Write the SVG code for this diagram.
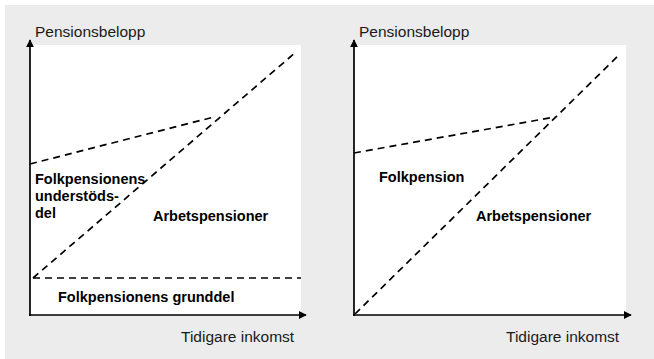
<svg xmlns="http://www.w3.org/2000/svg" width="654" height="359" viewBox="0 0 654 359">
  <defs>
    <style>
      .axis { stroke: #000; stroke-width: 1.7; fill: none; }
      .dash { stroke: #000; stroke-width: 1.7; fill: none; stroke-dasharray: 7 5; }
      .lbl { font-family: "Liberation Sans", Arial, sans-serif; font-size: 15.5px; fill: #1a1a1a; }
      .bold { font-family: "Liberation Sans", Arial, sans-serif; font-size: 14.5px; font-weight: bold; fill: #000; }
    </style>
    <marker id="arrow" viewBox="0 0 10 10" refX="9" refY="5" markerWidth="8" markerHeight="8" markerUnits="userSpaceOnUse" orient="auto">
      <path d="M0,0 L10,5 L0,10 Z" fill="#000"/>
    </marker>
  </defs>

  <rect x="5" y="5" width="649" height="354" fill="#ececec"/>

  <g id="left-chart">
    <rect x="30" y="45" width="271" height="270" fill="#fff"/>
    <text class="lbl" x="35" y="37">Pensionsbelopp</text>
    <text class="lbl" x="181" y="342">Tidigare inkomst</text>
    <text class="bold" x="35" y="184">Folkpensionens</text>
    <text class="bold" x="35" y="201">understöds-</text>
    <text class="bold" x="35" y="218">del</text>
    <text class="bold" x="153" y="221">Arbetspensioner</text>
    <text class="bold" x="58" y="302">Folkpensionens grunddel</text>
  </g>

  <g id="right-chart">
    <rect x="354" y="45" width="272" height="270" fill="#fff"/>
    <text class="lbl" x="359" y="37">Pensionsbelopp</text>
    <text class="lbl" x="506" y="342">Tidigare inkomst</text>
    <text class="bold" x="379" y="182">Folkpension</text>
    <text class="bold" x="476" y="221">Arbetspensioner</text>
  </g>

  <g id="connectors">
    <line class="axis" x1="30" y1="316" x2="30" y2="40" marker-end="url(#arrow)"/>
    <line class="axis" x1="29" y1="315" x2="306" y2="315" marker-end="url(#arrow)"/>
    <line class="dash" x1="30" y1="164" x2="214" y2="117"/>
    <line class="dash" x1="33" y1="278" x2="296" y2="52"/>
    <line class="dash" x1="33" y1="278" x2="301" y2="278"/>

    <line class="axis" x1="354" y1="316" x2="354" y2="40" marker-end="url(#arrow)"/>
    <line class="axis" x1="353" y1="315" x2="631" y2="315" marker-end="url(#arrow)"/>
    <line class="dash" x1="354" y1="153" x2="555" y2="117"/>
    <line class="dash" x1="355" y1="314" x2="620" y2="54"/>
  </g>
</svg>
